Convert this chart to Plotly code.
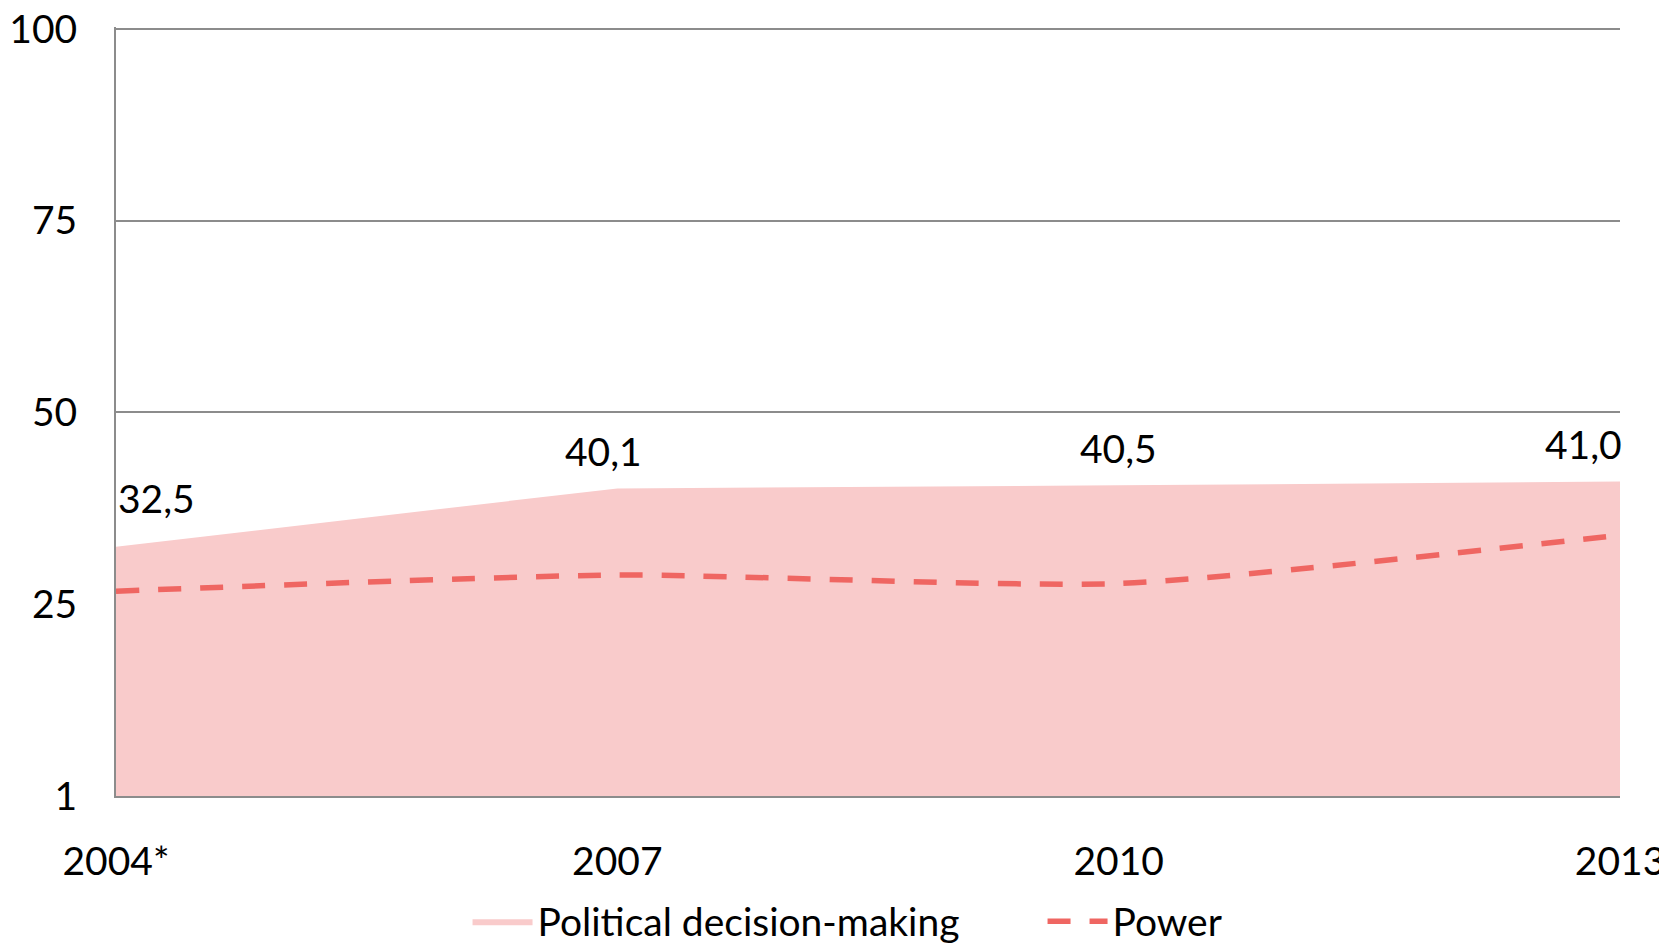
import plotly.graph_objects as go

years = ["2004*", "2007", "2010", "2013"]
political = [32.5, 40.1, 40.5, 41.0]
power = [26.7, 28.8, 27.7, 34.0]
value_labels = ["32,5", "40,1", "40,5", "41,0"]
y_ticks = [0, 25, 50, 75, 100]
y_tick_labels = ["1", "25", "50", "75", "100"]

xpos = list(range(len(years)))

FONT = "Lato"
FS = 39
FILL = "#F9CBCB"
LINE = "#EF6662"
GRID = "#8C8C8C"

fig = go.Figure()
fig.add_trace(go.Scatter(
    x=xpos, y=political, name="Political decision-making",
    mode="lines", fill="tozeroy", fillcolor=FILL,
    line=dict(width=0, color=FILL),
))
fig.add_trace(go.Scatter(
    x=xpos, y=power, name="Power",
    mode="lines", line=dict(color=LINE, width=5.5, dash="23px,19px", shape="spline", smoothing=0.6),
))

anchors = ["left", "center", "center", "right"]
xshifts = [0, -14, 0, 4]
yshifts = [49, 37, 37, 38]
for i, (xv, yv, lab) in enumerate(zip(xpos, political, value_labels)):
    fig.add_annotation(x=xv, y=yv, text=lab, showarrow=False,
                       xanchor=anchors[i], yanchor="middle",
                       xshift=xshifts[i], yshift=yshifts[i],
                       font=dict(family=FONT, size=FS, color="#000000"))

# page body has an 8px margin, so the figure is 8px smaller and shifted
fig.update_layout(
    width=1659, height=937,
    margin=dict(l=108, r=47, t=19, b=149, autoexpand=False),
    paper_bgcolor="white", plot_bgcolor="white",
    font=dict(family=FONT, size=FS, color="#000000"),
    showlegend=True,
    legend=dict(orientation="h", xref="container", x=0.277, xanchor="left",
                y=-0.163, yanchor="middle",
                font=dict(family=FONT, size=FS, color="#000000"),
                itemwidth=60, traceorder="normal",
                entrywidth=500, entrywidthmode="pixels"),
)
fig.update_xaxes(
    range=[0, 3], tickvals=xpos, ticktext=years,
    showgrid=False, zeroline=False, automargin=False,
    showline=True, linecolor=GRID, linewidth=2,
    ticks="", ticklabelstandoff=30, ticklabeloverflow="allow",
    tickfont=dict(family=FONT, size=FS, color="#000000"),
)
fig.update_yaxes(
    range=[0, 100.25], tickvals=y_ticks, ticktext=y_tick_labels,
    showgrid=True, gridcolor=GRID, gridwidth=1.5,
    zeroline=False, automargin=False,
    showline=True, linecolor=GRID, linewidth=2,
    ticks="", ticklabelstandoff=29, ticklabeloverflow="allow",
    tickfont=dict(family=FONT, size=FS, color="#000000"),
)

fig.write_html("out.html")
